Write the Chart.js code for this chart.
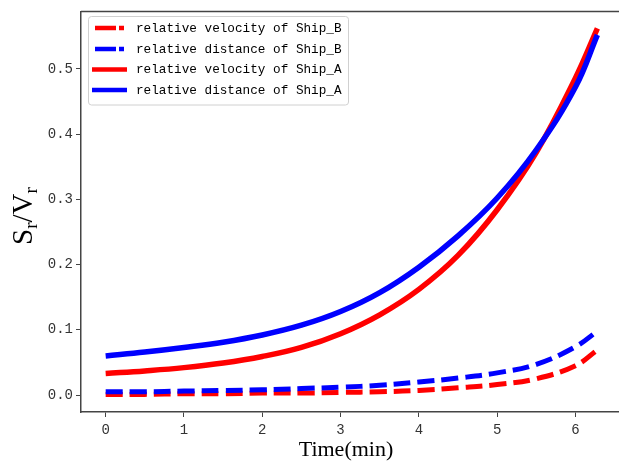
<!DOCTYPE html>
<html>
<head>
<meta charset="utf-8">
<script src="https://cdn.jsdelivr.net/npm/chart.js@4/dist/chart.umd.min.js"></script>
<style>
  body { margin: 0; background: #fff; }
</style>
</head>
<body>
<canvas id="myChart" width="619" height="462"></canvas>
<script>

// time in minutes
const times = [0, 0.5, 1, 1.5, 2, 2.5, 3, 3.5, 4, 4.5, 5, 5.5, 6, 6.28];

const velocityB = [0.001, 0.001, 0.002, 0.002, 0.003, 0.003, 0.004, 0.005, 0.007, 0.011, 0.016, 0.025, 0.045, 0.069];
const distanceB = [0.005, 0.005, 0.006, 0.007, 0.008, 0.010, 0.012, 0.015, 0.020, 0.026, 0.034, 0.047, 0.074, 0.098];
const velocityA = [0.033, 0.037, 0.042, 0.049, 0.059, 0.073, 0.094, 0.123, 0.162, 0.214, 0.284, 0.372, 0.486, 0.562];
const distanceA = [0.060, 0.066, 0.073, 0.081, 0.092, 0.107, 0.128, 0.157, 0.196, 0.244, 0.302, 0.376, 0.472, 0.552];

const labels = [
  'relative velocity of Ship_B',
  'relative distance of Ship_B',
  'relative velocity of Ship_A',
  'relative distance of Ship_A'
];

const xTicks = [0, 1, 2, 3, 4, 5, 6];
const yTicks = [0, 0.1, 0.2, 0.3, 0.4, 0.5];

const toPoints = (vals) => times.map((t, i) => ({x: t, y: vals[i]}));

const tickFont = {family: 'Liberation Mono', size: 14};

const data = {
  datasets: [
    {label: labels[0], data: toPoints(velocityB), borderColor: '#ff0000', borderWidth: 5, borderDash: [17, 7], order: 4},
    {label: labels[1], data: toPoints(distanceB), borderColor: '#0000ff', borderWidth: 5, borderDash: [17, 7], order: 3},
    {label: labels[2], data: toPoints(velocityA), borderColor: '#ff0000', borderWidth: 5.5, order: 2},
    {label: labels[3], data: toPoints(distanceA), borderColor: '#0000ff', borderWidth: 5.5, order: 1}
  ]
};

// top spine, legend box and axis titles
const extras = {
  id: 'extras',
  afterDatasetsDraw(chart) {
    const ctx = chart.ctx;
    const a = chart.chartArea;
    ctx.save();
    ctx.strokeStyle = '#444';
    ctx.lineWidth = 1.5;
    ctx.beginPath();
    ctx.moveTo(a.left, a.top);
    ctx.lineTo(a.right, a.top);
    ctx.stroke();

    // legend
    ctx.beginPath();
    ctx.roundRect(88.5, 16.5, 260, 88.5, 3);
    ctx.fillStyle = 'rgba(255,255,255,0.85)';
    ctx.fill();
    ctx.strokeStyle = '#d0d0d0';
    ctx.lineWidth = 1;
    ctx.stroke();

    const rows = [28, 49, 69.5, 90];
    chart.data.datasets.forEach((ds, i) => {
      const y = rows[i];
      ctx.strokeStyle = ds.borderColor;
      ctx.lineWidth = 4.5;
      ctx.lineCap = 'butt';
      ctx.setLineDash(ds.borderDash ? [21, 3] : []);
      ctx.beginPath();
      ctx.moveTo(ds.borderDash ? 95 : 92, y);
      ctx.lineTo(ds.borderDash ? 124 : 127, y);
      ctx.stroke();
      ctx.setLineDash([]);
      ctx.fillStyle = '#000';
      ctx.font = '12.7px "Liberation Mono"';
      ctx.textBaseline = 'middle';
      ctx.textAlign = 'left';
      ctx.fillText(ds.label, 136, y + 0.5);
    });

    // x title
    ctx.fillStyle = '#000';
    ctx.font = '22px "Liberation Serif"';
    ctx.textAlign = 'center';
    ctx.textBaseline = 'alphabetic';
    ctx.fillText('Time(min)', 346, 456);

    // y title S_r/V_r
    ctx.translate(32, 216);
    ctx.rotate(-Math.PI / 2);
    const big = '29px "Liberation Serif"';
    const small = '19px "Liberation Serif"';
    const parts = [['S', big, 0], ['r', small, 5], ['/V', big, 0], ['r', small, 5]];
    let total = 0;
    parts.forEach(p => { ctx.font = p[1]; total += ctx.measureText(p[0]).width; });
    let x = -total / 2;
    ctx.textAlign = 'left';
    parts.forEach(p => {
      ctx.font = p[1];
      ctx.fillText(p[0], x, p[2]);
      x += ctx.measureText(p[0]).width;
    });
    ctx.restore();
  }
};

const config = {
  type: 'line',
  data: data,
  options: {
    responsive: false,
    animation: false,
    layout: {padding: {top: 8, right: 0, left: 0, bottom: 0}},
    elements: {point: {radius: 0}, line: {tension: 0.4, fill: false}},
    plugins: {legend: {display: false}, tooltip: {enabled: false}},
    scales: {
      x: {
        type: 'linear',
        min: -0.315,
        max: 6.556,
        afterFit: (s) => { s.height = 50; },
        afterBuildTicks: (s) => { s.ticks = xTicks.map(v => ({value: v})); },
        ticks: {font: tickFont, color: '#333', padding: 5, maxRotation: 0, callback: (v) => String(v)},
        grid: {display: true, drawOnChartArea: false, drawTicks: true, tickLength: 5, color: '#444', lineWidth: 1},
        border: {display: true, color: '#444', width: 1.5}
      },
      y: {
        min: -0.026,
        max: 0.588,
        afterFit: (s) => { s.width = 81; },
        afterBuildTicks: (s) => { s.ticks = yTicks.map(v => ({value: v})); },
        ticks: {font: tickFont, color: '#333', padding: 3, callback: (v) => v.toFixed(1)},
        grid: {display: true, drawOnChartArea: false, drawTicks: true, tickLength: 5, color: '#444', lineWidth: 1},
        border: {display: true, color: '#444', width: 1.5}
      }
    }
  },
  plugins: [extras]
};

const myChart = new Chart(
  document.getElementById('myChart'),
  config
);
</script>
</body>
</html>
